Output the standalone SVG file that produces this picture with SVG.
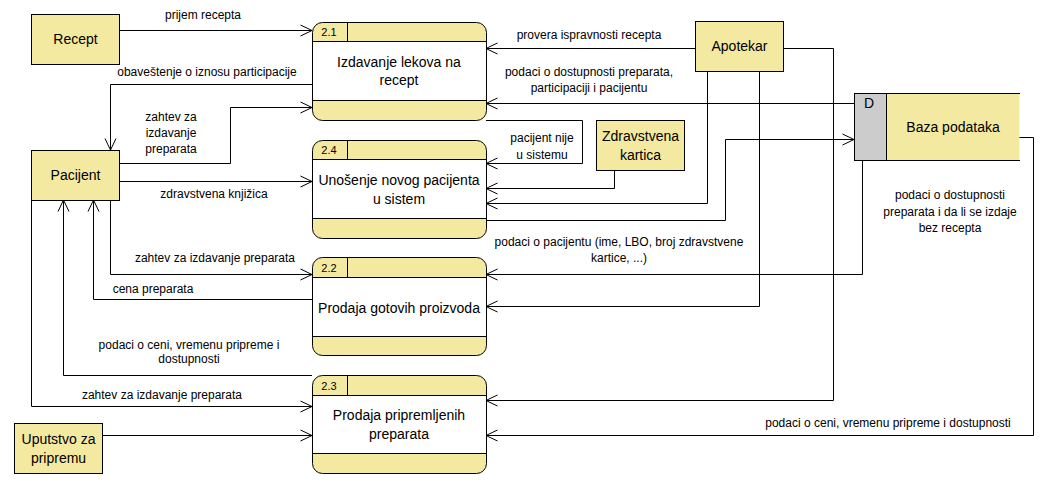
<svg xmlns="http://www.w3.org/2000/svg" width="1057" height="488" viewBox="0 0 1057 488">
<defs>
<marker id="arr" markerUnits="userSpaceOnUse" markerWidth="12" markerHeight="12" viewBox="0 0 12 12" refX="11.5" refY="6" orient="auto" overflow="visible">
<path d="M0,0.5 L11.5,6 L0,11.5" fill="none" stroke="#000" stroke-width="1"/>
</marker>
</defs>
<style>
.ent{fill:#F3E9A0;stroke:#000;stroke-width:1}
.pf{fill:#F3E9A0;stroke:#000;stroke-width:1}
.pm{fill:#fff;stroke:#000;stroke-width:1}
.ln{fill:none;stroke:#000;stroke-width:1}
.fl{fill:none;stroke:#000;stroke-width:1;marker-end:url(#arr)}
.nt{font-family:"Liberation Sans",Arial,sans-serif;font-size:14px;fill:#000;text-anchor:middle}
.id{font-family:"Liberation Sans",Arial,sans-serif;font-size:11px;fill:#000;text-anchor:middle}
.lb{font-family:"Liberation Sans",Arial,sans-serif;font-size:12px;fill:#000;text-anchor:middle}
</style>
<rect width="1057" height="488" fill="#fff"/>

<g id="connectors">
<path class="fl" d="M119,30.5 H312"/>
<path class="fl" d="M312,84.5 H110.5 V150"/>
<path class="fl" d="M119,163.5 H230.5 V107.5 H312"/>
<path class="fl" d="M119,181.5 H312"/>
<path class="fl" d="M110.5,200 V274.5 H312"/>
<path class="fl" d="M312,299.5 H93.5 V200"/>
<path class="fl" d="M312,375.5 H63.5 V200"/>
<path class="fl" d="M31.5,200 V406.5 H312"/>
<path class="fl" d="M102,435.5 H312"/>
<path class="fl" d="M695,48.5 H486"/>
<path class="fl" d="M854,103.5 H486"/>
<path class="fl" d="M486,120.5 H582.5 V163.5 H486"/>
<path class="fl" d="M614.5,171 V188.5 H486"/>
<path class="fl" d="M707.5,71 V203.5 H486"/>
<path class="fl" d="M486,220.5 H725.5 V139.5 H854"/>
<path class="fl" d="M862.5,160 V274.5 H486"/>
<path class="fl" d="M759.5,71 V306.5 H486"/>
<path class="fl" d="M783,48.5 H833.5 V400.5 H486"/>
<path class="fl" d="M1019,137.5 H1033.5 V435.5 H486"/>

<text class="lb" x="203" y="19">prijem recepta</text>
<text class="lb" x="207" y="76">obaveštenje o iznosu participacije</text>
<text class="lb" x="171" y="121">zahtev za</text>
<text class="lb" x="171" y="137">izdavanje</text>
<text class="lb" x="171" y="153">preparata</text>
<text class="lb" x="214" y="198">zdravstvena knjižica</text>
<text class="lb" x="215" y="262">zahtev za izdavanje preparata</text>
<text class="lb" x="153" y="293">cena preparata</text>
<text class="lb" x="189" y="348.5">podaci o ceni, vremenu pripreme i</text>
<text class="lb" x="189" y="363">dostupnosti</text>
<text class="lb" x="162" y="399">zahtev za izdavanje preparata</text>
<text class="lb" x="589" y="39">provera ispravnosti recepta</text>
<text class="lb" x="589" y="76">podaci o dostupnosti preparata,</text>
<text class="lb" x="589" y="92">participaciji i pacijentu</text>
<text class="lb" x="542" y="142">pacijent nije</text>
<text class="lb" x="542" y="159">u sistemu</text>
<text class="lb" x="619" y="246">podaci o pacijentu (ime, LBO, broj zdravstvene</text>
<text class="lb" x="619" y="262">kartice, ...)</text>
<text class="lb" x="950" y="199">podaci o dostupnosti</text>
<text class="lb" x="950" y="216">preparata i da li se izdaje</text>
<text class="lb" x="950" y="232">bez recepta</text>
<text class="lb" x="888" y="426.5">podaci o ceni, vremenu pripreme i dostupnosti</text>
</g>

<g id="recept">
<rect class="ent" x="31.5" y="14.5" width="88" height="50"/>
<text class="nt" x="75.5" y="44">Recept</text>
</g>
<g id="pacijent">
<rect class="ent" x="31.5" y="150.5" width="88" height="50"/>
<text class="nt" x="75.5" y="180">Pacijent</text>
</g>
<g id="uputstvo">
<rect class="ent" x="14.5" y="423.5" width="88" height="50"/>
<text class="nt" x="58.5" y="444">Uputstvo za</text>
<text class="nt" x="58.5" y="463">pripremu</text>
</g>
<g id="apotekar">
<rect class="ent" x="695.5" y="21.5" width="88" height="50"/>
<text class="nt" x="739.5" y="51">Apotekar</text>
</g>
<g id="zdravstvena-kartica">
<rect class="ent" x="596.5" y="120.5" width="88" height="50"/>
<text class="nt" x="640.5" y="141">Zdravstvena</text>
<text class="nt" x="640.5" y="160">kartica</text>
</g>
<g id="baza-podataka">
<rect x="886.5" y="93.5" width="133" height="67" fill="#F3E9A0"/>
<path class="ln" d="M886.5,93.5 H1020 M886.5,160.5 H1020"/>
<rect x="854.5" y="93.5" width="32" height="67" fill="#CCCCCC" stroke="#000" stroke-width="1"/>
<text class="nt" x="869" y="108">D</text>
<text class="nt" x="953" y="132">Baza podataka</text>
</g>

<g id="p21">
<rect class="pf" x="312.5" y="22.5" width="174" height="98" rx="10" ry="10"/>
<rect class="pm" x="312.5" y="41.5" width="174" height="59"/>
<path class="ln" d="M347.5,22.5 V41.5"/>
<text class="id" x="329" y="36">2.1</text>
<text class="nt" x="399" y="67">Izdavanje lekova na</text>
<text class="nt" x="399" y="85">recept</text>
</g>
<g id="p24">
<rect class="pf" x="312.5" y="140.5" width="174" height="98" rx="10" ry="10"/>
<rect class="pm" x="312.5" y="159.5" width="174" height="59"/>
<path class="ln" d="M347.5,140.5 V159.5"/>
<text class="id" x="329" y="154">2.4</text>
<text class="nt" x="399" y="185">Unošenje novog pacijenta</text>
<text class="nt" x="399" y="204">u sistem</text>
</g>
<g id="p22">
<rect class="pf" x="312.5" y="257.5" width="174" height="98" rx="10" ry="10"/>
<rect class="pm" x="312.5" y="277.5" width="174" height="59"/>
<path class="ln" d="M347.5,257.5 V277.5"/>
<text class="id" x="329" y="272">2.2</text>
<text class="nt" x="399" y="312.5">Prodaja gotovih proizvoda</text>
</g>
<g id="p23">
<rect class="pf" x="312.5" y="375.5" width="174" height="98" rx="10" ry="10"/>
<rect class="pm" x="312.5" y="395.5" width="174" height="58"/>
<path class="ln" d="M347.5,375.5 V395.5"/>
<text class="id" x="329" y="390">2.3</text>
<text class="nt" x="399" y="420">Prodaja pripremljenih</text>
<text class="nt" x="399" y="439">preparata</text>
</g>
</svg>
